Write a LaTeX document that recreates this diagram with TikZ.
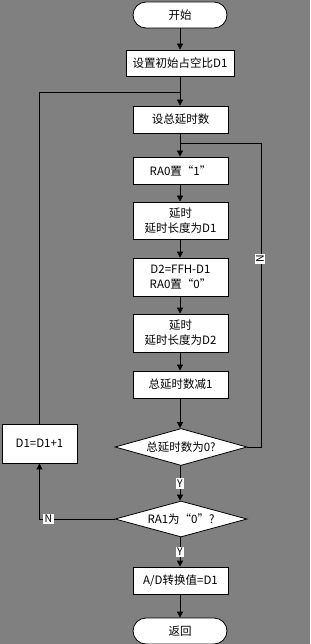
\documentclass[tikz,border=0pt]{standalone}
\usepackage{fontspec}
\setmainfont{Noto Sans CJK SC}
\usetikzlibrary{arrows.meta,shapes.geometric}
\begin{document}
\begin{tikzpicture}[x=1pt,y=-1pt,
  every node/.style={font=\fontsize{11.5pt}{15pt}\selectfont, inner sep=0pt, align=center},
  procbox/.style={draw=black, fill=white, line width=0.8pt, minimum width=95pt, minimum height=27pt},
  termbox/.style={draw=black, fill=white, line width=0.8pt, rounded corners=13pt, minimum width=94pt, minimum height=26pt},
  decbox/.style={draw=black, fill=white, line width=0.8pt, shape=diamond, aspect=3.5, minimum width=132pt, minimum height=37pt},
  lbl/.style={fill=white, inner xsep=1.5pt, inner ysep=1.5pt, font=\fontsize{10.5pt}{12pt}\selectfont},
  flow/.style={draw=black, line width=0.8pt},
  arr/.style={flow, -{Triangle[length=6pt,width=6pt]}}]
\useasboundingbox (0,0) rectangle (310,644);
\fill[black!50] (0,0) rectangle (310,644);
\node[termbox] (start) at (180,15) {开始};
\node[procbox, minimum width=108pt, minimum height=26pt] (init) at (180,63) {设置初始占空比D1};
\node[procbox] (total) at (180.5,119.5) {设总延时数};
\node[procbox] (ra1) at (180.5,170.5) {RA0置“1”};
\node[procbox, minimum height=37pt] (dl1) at (180.5,220.5) {延时\\延时长度为D1};
\node[procbox, minimum height=38pt] (d2) at (180.5,277) {D2=FFH-D1\\RA0置“0”};
\node[procbox, minimum height=38pt] (dl2) at (180.5,333) {延时\\延时长度为D2};
\node[procbox] (dec) at (180.5,384.5) {总延时数减1};
\node[decbox] (dia1) at (181,447) {总延时数为0?};
\node[decbox, minimum height=36pt] (dia2) at (181,519) {RA1为“0”?};
\node[procbox, minimum width=75pt, minimum height=39pt] (inc) at (39.5,443.5) {D1=D1+1};
\node[procbox] (ad) at (180.5,580.5) {A/D转换值=D1};
\node[termbox] (ret) at (180,631) {返回};
\coordinate (joinA) at (180,92);
\coordinate (joinB) at (180,143);
\coordinate (rightx) at (261,143);
\draw[arr] (start) -- (start.south |- init.north);
\draw[arr] (init.south -| joinA) -- (total.north -| joinA);
\draw[flow] (inc.north) |- (joinA);
\draw[arr] (total.south -| joinB) -- (ra1.north -| joinB);
\draw[flow] (dia1.east) -| (rightx) -- (joinB);
\node[lbl, rotate=90] (nlbl1) at (260,259) {N};
\draw[arr] (ra1.south -| joinB) -- (dl1.north -| joinB);
\draw[arr] (dl1.south -| joinB) -- (d2.north -| joinB);
\draw[arr] (d2.south -| joinB) -- (dl2.north -| joinB);
\draw[arr] (dl2.south -| joinB) -- (dec.north -| joinB);
\draw[arr] (dec.south -| joinB) -- (dia1.north -| joinB);
\draw[arr] (dia1.south -| joinB) -- node[lbl] (ylbl1) {Y} (dia2.north -| joinB);
\draw[arr] (dia2.west) -| node[lbl, pos=0.44] (nlbl2) {N} (inc.south);
\draw[arr] (dia2.south -| joinB) -- node[lbl] (ylbl2) {Y} (ad.north -| joinB);
\draw[arr] (ad.south -| joinB) -- (ret.north -| joinB);
\end{tikzpicture}
\end{document}
